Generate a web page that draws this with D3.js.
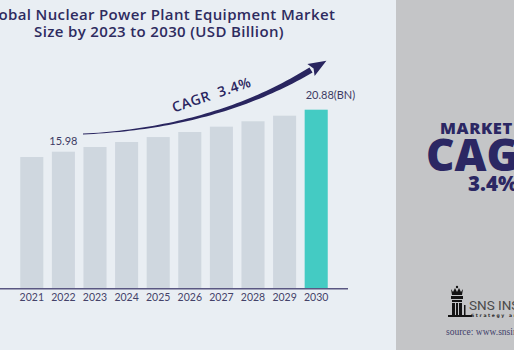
<!DOCTYPE html>
<html>
<head>
<meta charset="utf-8">
<script src="https://cdn.jsdelivr.net/npm/d3@7"></script>
<style>
  html, body { margin: 0; padding: 0; background: #e9eef3; }
  svg { display: block; }
</style>
</head>
<body>
<div id="chart"></div>
<script>
// data
const years = ['2021','2022','2023','2024','2025','2026','2027','2028','2029','2030'];
const values = [15.36, 15.98, 16.53, 17.11, 17.69, 18.28, 18.90, 19.53, 20.18, 20.88];
const labels = {'2022': '15.98', '2030': '20.88(BN)'};
const titleLines = ['Global Nuclear Power Plant Equipment Market', 'Size by 2023 to 2030 (USD Billion)'];
const cagrText = 'CAGR  3.4%';
const panelLines = ['MARKET', 'CAGR', '3.4%'];

const width = 514, height = 350;
const baseY = 288.7;

const svg = d3.select('#chart')
    .append('svg')
        .attr('width', width)
        .attr('height', height);

svg.append('rect')
    .attr('width', width).attr('height', height)
    .attr('fill', '#e9eef3');

// scales
const x = d3.scaleBand()
    .domain(years)
    .range([16, 332])
    .paddingInner(0.27)
    .paddingOuter(0.135);
const y = d3.scaleLinear()
    .domain([0, d3.max(values)])
    .range([baseY, 109.7]);

// title
svg.append('g')
    .selectAll('text')
    .data(titleLines)
    .join('text')
        .attr('x', 159)
        .attr('y', (d, i) => 19.5 + i * 17.5)
        .attr('text-anchor', 'middle')
        .attr('fill', '#2e2b5f')
        .style('font-family', 'Open Sans')
        .style('font-weight', 600)
        .style('font-size', '15px')
        .style('letter-spacing', '0.35px')
        .text(d => d);

// bars
svg.append('g')
    .selectAll('rect')
    .data(values)
    .join('rect')
        .attr('x', (d, i) => x(years[i]))
        .attr('y', d => y(d))
        .attr('width', x.bandwidth())
        .attr('height', d => baseY - y(d))
        .attr('fill', (d, i) => i === years.length - 1 ? '#44cbc3' : '#cfd7df');

// value labels
svg.append('g')
    .selectAll('text')
    .data(years.filter(yr => labels[yr]))
    .join('text')
        .attr('x', yr => yr === '2030' ? x(yr) + 1 : x(yr) + x.bandwidth() / 2)
        .attr('y', yr => y(values[years.indexOf(yr)]) - (yr === '2030' ? 10.5 : 7))
        .attr('text-anchor', yr => yr === '2030' ? 'start' : 'middle')
        .attr('fill', '#3d3b64')
        .style('font-family', 'Lato')
        .style('font-size', '11px')
        .text(yr => labels[yr]);

// x axis
const xAxis = g => g
    .attr('transform', `translate(0, ${baseY})`)
    .call(d3.axisBottom(x).tickSize(0).tickPadding(5))
    .call(g => g.select('.domain').remove())
    .call(g => g.selectAll('.tick text')
        .attr('fill', '#444269')
        .style('font-family', 'Lato')
        .style('font-size', '10.5px'));
svg.append('g').call(xAxis);

svg.append('line')
    .attr('x1', 0).attr('x2', 348)
    .attr('y1', baseY).attr('y2', baseY)
    .attr('stroke', '#5a5782')
    .attr('stroke-width', 1.5);

// CAGR swoosh
const p0 = [83, 134], pc = [215, 128], p2 = [311, 70];
const bez = t => [
    (1-t)*(1-t)*p0[0] + 2*(1-t)*t*pc[0] + t*t*p2[0],
    (1-t)*(1-t)*p0[1] + 2*(1-t)*t*pc[1] + t*t*p2[1]
];
const bezD = t => [
    2*(1-t)*(pc[0]-p0[0]) + 2*t*(p2[0]-pc[0]),
    2*(1-t)*(pc[1]-p0[1]) + 2*t*(p2[1]-pc[1])
];
const edgeA = [], edgeB = [];
d3.range(0, 1.0001, 0.02).forEach(t => {
    const p = bez(t), d = bezD(t);
    const len = Math.hypot(d[0], d[1]);
    const nx = -d[1] / len, ny = d[0] / len;
    const w = 0.4 + 2.6 * Math.pow(t, 1.3);
    edgeA.push([p[0] + nx * w, p[1] + ny * w]);
    edgeB.push([p[0] - nx * w, p[1] - ny * w]);
});
svg.append('path')
    .attr('d', d3.line()(edgeA.concat(edgeB.reverse())) + 'Z')
    .attr('fill', '#29255f');
// arrow head
const dEnd = bezD(1), lEnd = Math.hypot(dEnd[0], dEnd[1]);
const ux = dEnd[0] / lEnd, uy = dEnd[1] / lEnd;
const tip = [p2[0] + ux * 18, p2[1] + uy * 18];
const hw = 7;
svg.append('path')
    .attr('d', d3.line()([
        tip,
        [p2[0] - uy * hw, p2[1] + ux * hw],
        [p2[0] + ux * 3, p2[1] + uy * 3],
        [p2[0] + uy * hw, p2[1] - ux * hw]
    ]) + 'Z')
    .attr('fill', '#29255f');

svg.append('text')
    .attr('transform', 'translate(174,112.5) rotate(-18.5)')
    .attr('fill', '#29255f')
    .style('font-family', 'Open Sans')
    .style('font-weight', 600)
    .style('font-size', '14px')
    .style('letter-spacing', '0.6px')
    .style('white-space', 'pre')
    .text(cagrText);

// right panel
svg.append('rect')
    .attr('x', 396).attr('y', 0)
    .attr('width', width - 396).attr('height', height)
    .attr('fill', '#c4c5c7');

const panel = [
    {t: panelLines[0], x: 440, y: 134, size: 16.5, ls: 0.6},
    {t: panelLines[1], x: 426, y: 170.7, size: 44, ls: 0},
    {t: panelLines[2], x: 468, y: 190.7, size: 20.5, ls: 0}
];
svg.append('g')
    .selectAll('text')
    .data(panel)
    .join('text')
        .attr('x', d => d.x)
        .attr('y', d => d.y)
        .attr('fill', '#2b2763')
        .style('font-family', 'Open Sans')
        .style('font-weight', 800)
        .style('font-size', d => d.size + 'px')
        .style('letter-spacing', d => d.ls + 'px')
        .text(d => d.t);

// logo
const logo = svg.append('g').attr('fill', '#141414');
logo.append('path')
    .attr('d', 'M451,289 L453,292 L455,288 L457,292 L459,288 L461,292 L463,289 L462,295 L452,295 Z');
logo.append('circle').attr('cx', 457).attr('cy', 287).attr('r', 1.2);
logo.append('rect').attr('x', 451).attr('y', 296).attr('width', 12).attr('height', 3);
logo.append('rect').attr('x', 452).attr('y', 300).attr('width', 10).attr('height', 2);
logo.append('rect').attr('x', 452).attr('y', 303).attr('width', 3).attr('height', 12);
logo.append('rect').attr('x', 456).attr('y', 303).attr('width', 2).attr('height', 12);
logo.append('rect').attr('x', 459).attr('y', 303).attr('width', 3).attr('height', 12);
logo.append('rect').attr('x', 448).attr('y', 315).attr('width', 24).attr('height', 2);
logo.append('rect').attr('x', 464).attr('y', 305).attr('width', 1.5).attr('height', 10);

svg.append('text')
    .attr('x', 469).attr('y', 310)
    .attr('fill', '#4a4a4a')
    .style('font-family', 'Roboto')
    .style('font-size', '13.5px')
    .text('SNS INSIDER');
svg.append('text')
    .attr('x', 471).attr('y', 316.5)
    .attr('fill', '#2a2a2a')
    .style('font-family', 'DejaVu Sans')
    .style('font-weight', 700)
    .style('font-size', '4.5px')
    .style('letter-spacing', '1.6px')
    .text('Strategy and Stats');
svg.append('text')
    .attr('x', 446).attr('y', 335)
    .attr('fill', '#3f3e6a')
    .style('font-family', 'Liberation Serif')
    .style('font-size', '9.5px')
    .text('source: www.snsinsider.com');
</script>
</body>
</html>
